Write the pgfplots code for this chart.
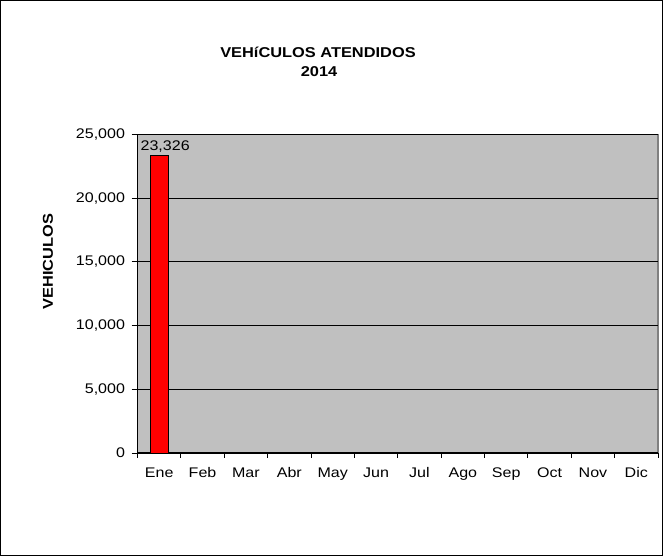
\documentclass[border=0pt]{standalone}
\usepackage{fontspec}
\setmainfont{Liberation Sans}[FakeStretch=1.15]
\usepackage{pgfplots}
\pgfplotsset{compat=1.18}
\definecolor{bg}{HTML}{C0C0C0}
\definecolor{edge}{HTML}{808080}
\begin{document}
\begin{tikzpicture}[x=1bp,y=1bp]
\useasboundingbox (0,0) rectangle (663,556);
\draw[black, line width=0.8bp] (0.5,0.5) rectangle (662.5,555.5);
\node[font=\fontsize{14.3}{16}\selectfont\bfseries] at (318,504) {VEHíCULOS ATENDIDOS};
\node[font=\fontsize{14.3}{16}\selectfont\bfseries] at (319,484) {2014};
\node[rotate=90, font=\fontsize{14.3}{16}\selectfont\bfseries] at (48,294.5) {VEHICULOS};
\begin{axis}[
  at={(137.5bp,103bp)}, anchor=south west, scale only axis,
  width=520.5bp, height=318.5bp,
  xmin=-0.5, xmax=11.5, ymin=0, ymax=25000,
  axis x line*=bottom, axis y line*=left,
  axis line style={black, line width=1bp},
  axis background/.style={fill=bg, draw=edge, line width=1.5bp},
  ymajorgrids, grid style={black, line width=0.8bp},
  tick align=outside, major tick length=6bp, minor tick length=5bp,
  xtick={0,...,11},
  xticklabels={Ene,Feb,Mar,Abr,May,Jun,Jul,Ago,Sep,Oct,Nov,Dic},
  x tick style={draw=none},
  minor xtick={-0.5,0.5,...,11.5},
  minor x tick style={draw=black, line width=0.8bp},
  ytick={0,5000,...,25000},
  y tick style={black, line width=0.8bp},
  scaled y ticks=false,
  /pgf/number format/.cd, 1000 sep={,}, assume math mode=true, /pgfplots/.cd,
  tick label style={font=\fontsize{14}{16}\selectfont},
  xticklabel style={yshift=-5bp},
  yticklabel style={xshift=-3bp},
]
\addplot[ybar, fill=red, draw=black, line width=0.8bp, bar width=17.6bp,
  nodes near coords,
  every node near coord/.append style={xshift=6bp, font=\fontsize{14}{16}\selectfont, black}]
  coordinates {(0,23326)};
\end{axis}
\end{tikzpicture}
\end{document}
